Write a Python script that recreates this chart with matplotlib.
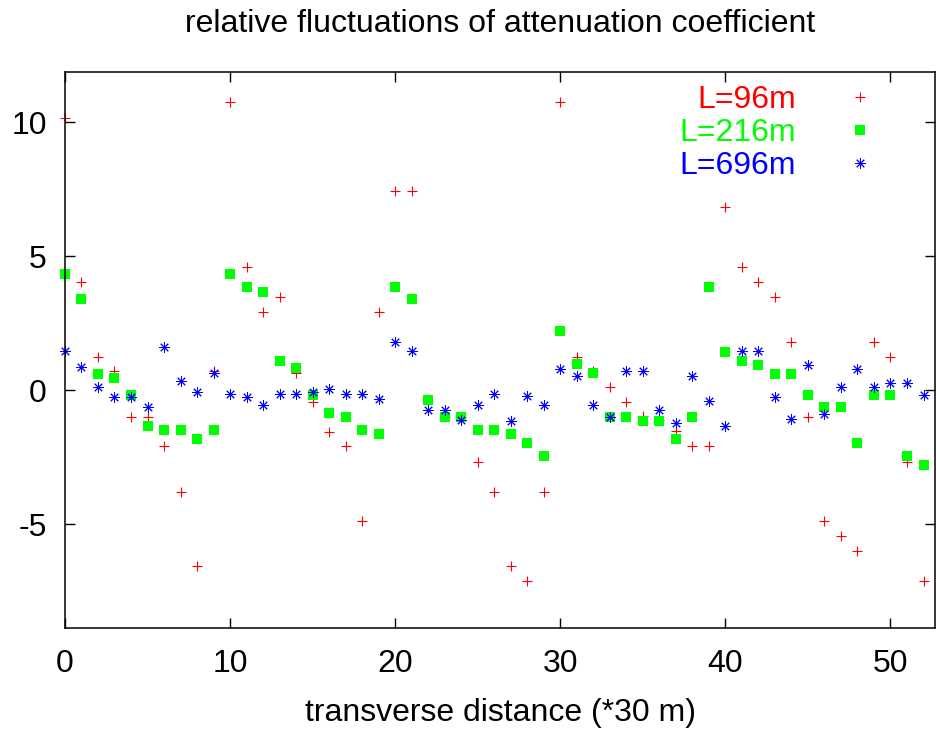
import matplotlib
matplotlib.use('Agg')
import matplotlib.pyplot as plt

plt.rcParams['font.family'] = ['Liberation Sans', 'DejaVu Sans']
plt.rcParams['axes.unicode_minus'] = False

# transverse position index (*30 m)
x = list(range(53))

# relative fluctuations
l96 = [10.16, 4.04, 1.24, 0.72, -1.0, -1.0, -2.1, -3.79, -6.57, 0.7,
       10.75, 4.6, 2.9, 3.46, 0.65, -0.44, -1.55, -2.1, -4.89, 2.9,
       7.43, 7.43, -0.4, -1.0, -1.0, -2.67, -3.79, -6.57, -7.13, -3.79,
       10.75, 1.24, 0.7, 0.12, -0.44, -0.95, -1.1, -1.52, -2.1, -2.1,
       6.83, 4.6, 4.03, 3.47, 1.78, -1.0, -4.89, -5.45, -6.0, 1.78,
       1.24, -2.67, -7.13]
l216 = [4.35, 3.38, 0.6, 0.46, -0.19, -1.34, -1.49, -1.49, -1.82, -1.49,
        4.35, 3.86, 3.67, 1.09, 0.81, -0.19, -0.85, -1.0, -1.49, -1.63,
        3.86, 3.38, -0.37, -1.0, -1.0, -1.49, -1.49, -1.63, -1.96, -2.45,
        2.21, 0.96, 0.62, -1.0, -1.0, -1.14, -1.14, -1.82, -1.0, 3.86,
        1.43, 1.09, 0.95, 0.61, 0.61, -0.17, -0.65, -0.65, -1.96, -0.17,
        -0.17, -2.45, -2.79]
l696 = [1.46, 0.87, 0.1, -0.25, -0.25, -0.65, 1.62, 0.35, -0.06, 0.62,
        -0.16, -0.25, -0.57, -0.16, -0.16, -0.06, 0.03, -0.16, -0.15, -0.32,
        1.8, 1.46, -0.75, -0.75, -1.1, -0.57, -0.15, -1.17, -0.24, -0.57,
        0.77, 0.52, -0.57, -1.0, 0.7, 0.7, -0.75, -1.24, 0.52, -0.4,
        -1.33, 1.46, 1.46, -0.25, -1.07, 0.95, -0.91, 0.1, 0.77, 0.1,
        0.27, 0.27, -0.17]

fig = plt.figure(figsize=(9.36, 7.31), dpi=100)
ax = fig.add_axes([0.0694, 0.1409, 0.9296, 0.7606])

ax.plot(x, l96, linestyle='none', marker='+', markersize=7.5, markeredgewidth=0.8,
        color='#ff0000', label='L=96m', clip_on=False)
ax.plot(x, l216, linestyle='none', marker='s', markersize=7.2, markeredgewidth=0,
        color='#00ff00', label='L=216m', clip_on=False)
ax.plot(x, l696, linestyle='none', marker=(8, 2, 0), markersize=7.5, markeredgewidth=0.7,
        color='#0000ff', label='L=696m', clip_on=False)

ax.set_xlim(0, 52.7)
ax.set_ylim(-8.88, 11.87)
ax.set_xticks([0, 10, 20, 30, 40, 50])
ax.set_yticks([-5, 0, 5, 10])
ax.tick_params(direction='in', length=7, width=1, top=True, right=True,
               labelsize=23, pad=15)
ax.tick_params(axis='y', pad=13)
for s in ax.spines.values():
    s.set_linewidth(1.1)

ax.set_xlabel('transverse distance (*30 m)', fontsize=23, labelpad=14)
ax.set_title('relative fluctuations of attenuation coefficient', fontsize=23, pad=29)

ax.legend(loc='upper right', bbox_to_anchor=(0.95, 0.977), frameon=False,
          markerfirst=False, labelcolor='linecolor', fontsize=23,
          handlelength=2, handletextpad=1.0, labelspacing=0.1,
          borderpad=0, borderaxespad=0)

fig.savefig('out.png', dpi=100)
